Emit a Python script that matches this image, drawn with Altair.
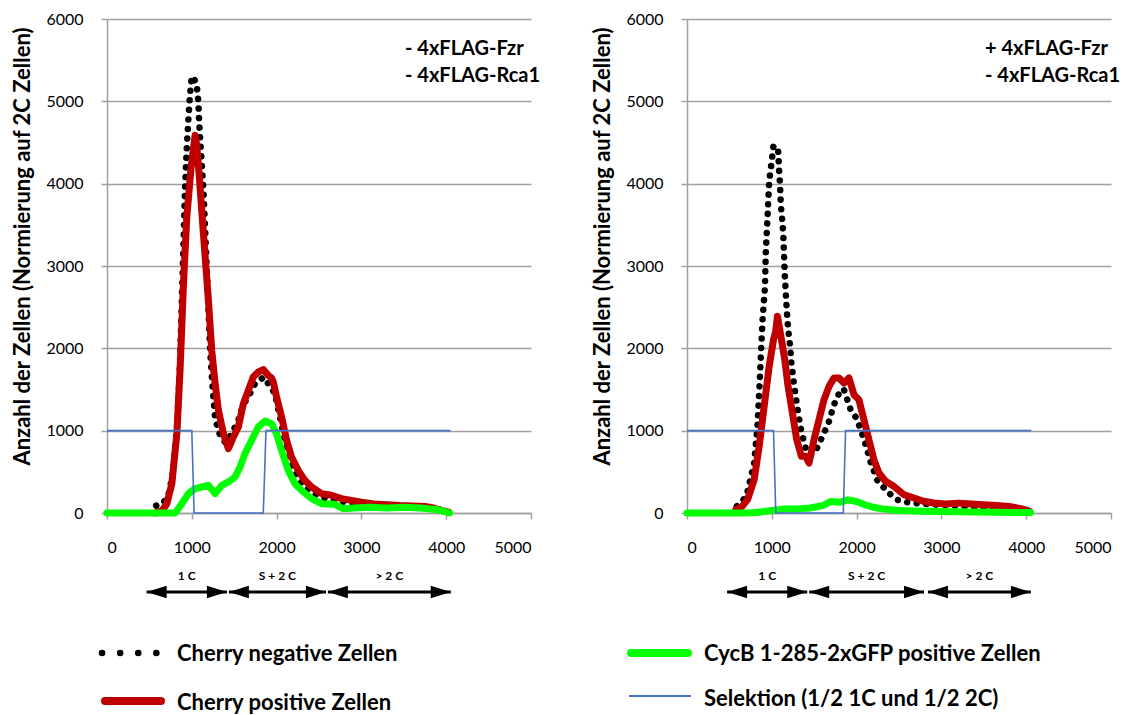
import altair as alt
import pandas as pd

FONT = "Lato"

# ---------------- Left panel (- 4xFLAG-Fzr / - 4xFLAG-Rca1) ----------------
L_neg_x = [580, 650, 720, 780, 830, 860, 880, 900, 922, 941, 965, 980, 1000, 1040, 1059, 1078, 1086, 1098,
           1110, 1125, 1137, 1155, 1175, 1195, 1215, 1240, 1275, 1333, 1400, 1460, 1540, 1600, 1686, 1750,
           1850, 1980, 2098, 2176, 2260, 2350, 2500, 2700, 3000, 3300, 3600, 3900, 4000]
L_neg_y = [90, 110, 200, 500, 1100, 1800, 2500, 3200, 4000, 4445, 4870, 5093, 5303, 5250, 5194, 4984, 4769, 4559,
           4364, 4121, 3919, 3500, 3000, 2500, 2000, 1600, 1146, 943, 850, 950, 1100, 1300, 1450, 1580,
           1650, 1450, 883, 600, 420, 300, 200, 150, 100, 90, 80, 50, 20]

L_pos_x = [570, 650, 706, 765, 824, 863, 902, 941, 992, 1039, 1060, 1086, 1137, 1196, 1235, 1275, 1314, 1373,
           1431, 1460, 1490, 1549, 1608, 1667, 1725, 1784, 1843, 1902, 1940, 1961, 2000, 2059, 2118, 2176,
           2255, 2333, 2412, 2529, 2647, 2765, 2900, 3000, 3150, 3300, 3450, 3600, 3750, 3850, 3950, 4030]
L_pos_y = [0, 30, 113, 356, 964, 1773, 2785, 3595, 4200, 4587, 4450, 4121, 3393, 2583, 1976, 1571, 1247, 964,
           781, 850, 923, 1045, 1328, 1490, 1652, 1713, 1741, 1672, 1640, 1591, 1409, 1166, 883, 680,
           518, 397, 316, 235, 215, 174, 150, 130, 110, 100, 90, 85, 80, 60, 30, 10]

L_gfp_x = [0, 400, 804, 882, 961, 1039, 1118, 1196, 1275, 1353, 1431, 1510, 1569, 1627, 1706, 1784, 1863,
           1941, 2000, 2059, 2137, 2216, 2294, 2412, 2529, 2686, 2784, 2900, 3100, 3300, 3500, 3700, 3900, 4040]
L_gfp_y = [0, 0, 0, 113, 235, 296, 316, 336, 235, 336, 377, 437, 559, 721, 883, 1045, 1117,
           1085, 964, 761, 518, 356, 275, 174, 113, 105, 53, 60, 70, 60, 70, 60, 40, 0]

L_sel_x = [0, 1000, 1027, 1843, 1875, 4050]
L_sel_y = [1000, 1000, 0, 0, 1000, 1000]

L_annot = ["- 4xFLAG-Fzr", "- 4xFLAG-Rca1"]
L_region_start = [467, 1437, 2605]
L_region_end = [1414, 2582, 4054]

# ---------------- Right panel (+ 4xFLAG-Fzr / - 4xFLAG-Rca1) ----------------
R_neg_x = [588, 700, 792, 831, 851, 871, 890, 918, 929, 949, 969, 996, 1020, 1050, 1075, 1086, 1098, 1106,
           1125, 1137, 1145, 1153, 1165, 1176, 1192, 1216, 1231, 1255, 1282, 1310, 1349, 1400, 1459, 1530,
           1616, 1675, 1733, 1812, 1850, 1890, 1929, 2000, 2086, 2165, 2243, 2361, 2478, 2600, 2800, 3000,
           3300, 3600, 3900, 4000]
R_neg_y = [81, 200, 607, 1053, 1457, 1903, 2328, 2733, 3158, 3583, 4028, 4251, 4462, 4450, 4393, 4170, 3968, 3745,
           3543, 3340, 3117, 2895, 2672, 2470, 2247, 2024, 1822, 1619, 1417, 1215, 992, 789, 700, 780,
           972, 1113, 1316, 1498, 1500, 1377, 1255, 1150, 900, 620, 400, 260, 160, 130, 110, 100,
           80, 60, 40, 20]

R_pos_x = [576, 650, 714, 792, 851, 910, 969, 1020, 1045, 1067, 1090, 1114, 1153, 1192, 1243, 1294, 1349,
           1400, 1439, 1498, 1557, 1616, 1675, 1733, 1792, 1851, 1910, 1969, 2027, 2086, 2145, 2204, 2263,
           2341, 2439, 2557, 2675, 2792, 2910, 3050, 3200, 3350, 3500, 3650, 3800, 3950, 4040]
R_pos_y = [40, 80, 162, 405, 810, 1296, 1781, 2105, 2200, 2389, 2250, 2105, 1862, 1538, 1215, 891, 688,
           688, 607, 891, 1134, 1377, 1538, 1640, 1640, 1579, 1640, 1437, 1377, 1134, 891, 648, 486,
           385, 324, 223, 182, 142, 121, 110, 120, 110, 100, 90, 80, 50, 20]

R_gfp_x = [0, 700, 850, 1000, 1150, 1300, 1450, 1600, 1700, 1800, 1900, 2000, 2100, 2200, 2300, 2500,
           2800, 3200, 3600, 4050]
R_gfp_y = [0, 0, 10, 30, 50, 50, 60, 90, 140, 130, 160, 140, 100, 70, 50, 30, 20, 15, 10, 5]

R_sel_x = [0, 1020, 1047, 1843, 1870, 4060]
R_sel_y = [1000, 1000, 0, 0, 1000, 1000]

R_annot = ["+ 4xFLAG-Fzr", "- 4xFLAG-Rca1"]
R_region_start = [473, 1441, 2841]
R_region_end = [1418, 2795, 4055]

region_labels = ["1 C", "S + 2 C", "> 2 C"]

# Legend entries
legend_left = ["Cherry negative Zellen", "Cherry positive Zellen"]
legend_right = ["CycB 1-285-2xGFP positive Zellen", "Selektion (1/2 1C und 1/2 2C)"]

Y_TITLE = "Anzahl der Zellen (Normierung auf 2C Zellen)"

W, H = 424, 494

xs = alt.Scale(domain=[0, 5000], nice=False)
ys = alt.Scale(domain=[0, 6000], nice=False)

x_axis = alt.Axis(values=[0, 1000, 2000, 3000, 4000, 5000], grid=False, title=None, format="d",
                  tickSize=6, labelPadding=20, labelFontSize=16, labelFont=FONT)
y_axis = alt.Axis(values=[0, 1000, 2000, 3000, 4000, 5000, 6000], grid=True, title=Y_TITLE, format="d",
                  tickSize=6, labelPadding=18, labelFontSize=16, labelFont=FONT,
                  titleFont=FONT, titleFontSize=22, titleFontWeight="bold",
                  titleX=-85, titleY=227, titleAlign="center", titleBaseline="middle", titleAngle=270)


def enc_x(field="x"):
    return alt.X(f"{field}:Q", scale=xs, axis=x_axis)


def enc_y(field="y"):
    return alt.Y(f"{field}:Q", scale=ys, axis=y_axis)


def dummy():
    return pd.DataFrame({"d": [0]})


def panel(neg_x, neg_y, pos_x, pos_y, gfp_x, gfp_y, sel_x, sel_y, annot, rs, re_, legend, legend_side):
    neg = pd.DataFrame({"x": neg_x, "y": neg_y})
    pos = pd.DataFrame({"x": pos_x, "y": pos_y})
    gfp = pd.DataFrame({"x": gfp_x, "y": gfp_y})
    sel = pd.DataFrame({"x": sel_x, "y": sel_y})
    reg = pd.DataFrame({"x": rs, "x2": re_, "label": region_labels})

    l_neg = alt.Chart(neg).mark_line(color="#000000", strokeWidth=6.5, strokeCap="round",
                                     strokeDash=[0.1, 9.5]).encode(x=enc_x(), y=enc_y())
    l_pos = alt.Chart(pos).mark_line(color="#c00000", strokeWidth=7, strokeCap="round",
                                     strokeJoin="round").encode(x=enc_x(), y=enc_y())
    l_gfp = alt.Chart(gfp).mark_line(color="#00ff00", strokeWidth=7, strokeCap="round",
                                     strokeJoin="round").encode(x=enc_x(), y=enc_y())
    l_sel = alt.Chart(sel).mark_line(color="#4472c4", strokeWidth=1.6).encode(x=enc_x(), y=enc_y())

    # annotation text (top right)
    t1 = alt.Chart(dummy()).mark_text(text=annot[0], font=FONT, fontSize=20, fontWeight="bold",
                                      align="left", baseline="middle", color="#000").encode(
        x=alt.value(298), y=alt.value(30))
    t2 = alt.Chart(dummy()).mark_text(text=annot[1], font=FONT, fontSize=20, fontWeight="bold",
                                      align="left", baseline="middle", color="#000").encode(
        x=alt.value(298), y=alt.value(57))

    # region arrows below axis
    shaft = alt.Chart(reg).mark_rule(color="#000", strokeWidth=3).encode(
        x=alt.X("x:Q", scale=xs, axis=x_axis), x2="x2:Q", y=alt.value(573))
    head_l = alt.Chart(reg).mark_point(shape="M 0 0 L 2 -0.62 L 2 0.62 Z", size=400, filled=True,
                                       color="#000", opacity=1).encode(
        x=alt.X("x:Q", scale=xs, axis=x_axis), y=alt.value(573))
    head_r = alt.Chart(reg).mark_point(shape="M 0 0 L -2 -0.62 L -2 0.62 Z", size=400, filled=True,
                                       color="#000", opacity=1).encode(
        x=alt.X("x2:Q", scale=xs, axis=x_axis), y=alt.value(573))
    lab = alt.Chart(reg).transform_calculate(xm="(datum.x + datum.x2) / 2").mark_text(
        font=FONT, fontSize=12, fontWeight="bold", color="#000", baseline="middle").encode(
        x=alt.X("xm:Q", scale=xs, axis=x_axis), y=alt.value(557), text="label:N")

    layers = [l_neg, l_pos, l_gfp, l_sel, t1, t2, shaft, head_l, head_r, lab]

    # legend drawn as marks
    if legend_side == "left":
        sym1 = alt.Chart(dummy()).mark_rule(color="#000", strokeWidth=6.5, strokeCap="round",
                                            strokeDash=[0.1, 18]).encode(
            x=alt.value(-5), x2=alt.value(50), y=alt.value(634))
        sym2 = alt.Chart(dummy()).mark_rule(color="#c00000", strokeWidth=8, strokeCap="round").encode(
            x=alt.value(-2), x2=alt.value(54), y=alt.value(682))
        tx = 70
    else:
        sym1 = alt.Chart(dummy()).mark_rule(color="#00ff00", strokeWidth=8, strokeCap="round").encode(
            x=alt.value(-56), x2=alt.value(1), y=alt.value(634))
        sym2 = alt.Chart(dummy()).mark_rule(color="#4472c4", strokeWidth=2).encode(
            x=alt.value(-58), x2=alt.value(4), y=alt.value(677))
        tx = 17
    lt1 = alt.Chart(dummy()).mark_text(text=legend[0], font=FONT, fontSize=22, fontWeight="bold",
                                       align="left", baseline="middle", color="#000").encode(
        x=alt.value(tx), y=alt.value(635))
    lt2 = alt.Chart(dummy()).mark_text(text=legend[1], font=FONT, fontSize=22, fontWeight="bold",
                                       align="left", baseline="middle", color="#000").encode(
        x=alt.value(tx), y=alt.value(684 if legend_side == "left" else 680))
    layers += [sym1, sym2, lt1, lt2]

    return alt.layer(*layers).properties(width=W, height=H)


left = panel(L_neg_x, L_neg_y, L_pos_x, L_pos_y, L_gfp_x, L_gfp_y, L_sel_x, L_sel_y,
             L_annot, L_region_start, L_region_end, legend_left, "left")
right = panel(R_neg_x, R_neg_y, R_pos_x, R_pos_y, R_gfp_x, R_gfp_y, R_sel_x, R_sel_y,
              R_annot, R_region_start, R_region_end, legend_right, "right")

chart = alt.hconcat(left, right, spacing=49).properties(
    padding={"left": 10, "top": 11, "right": 5, "bottom": 0}
).configure_view(stroke=None).configure_axis(
    gridColor="#a0a0a0", gridWidth=1.5, domainColor="#a0a0a0", domainWidth=1.5,
    tickColor="#a0a0a0", tickWidth=1.5, labelColor="#000", titleColor="#000"
)

chart.save("out.html", embed_options={"renderer": "svg", "actions": False})
